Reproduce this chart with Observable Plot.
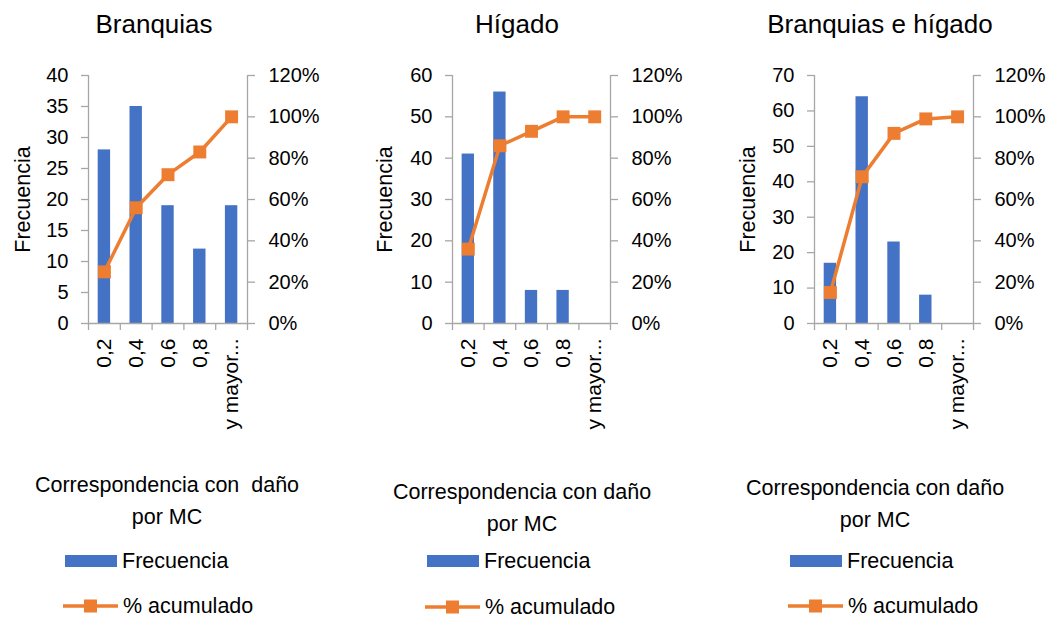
<!DOCTYPE html>
<html>
<head>
<meta charset="utf-8">
<script src="https://cdn.jsdelivr.net/npm/d3@7"></script>
<script src="https://cdn.jsdelivr.net/npm/@observablehq/plot@0.6"></script>
<style>
  html, body { margin: 0; padding: 0; background: #fff; }
  #root { position: relative; width: 1049px; height: 619px; overflow: hidden; background: #fff;
          font-family: "Liberation Sans", Arial, sans-serif; color: #000; }
  .title { position: absolute; font-size: 26px; line-height: 26px; white-space: nowrap; transform: translateX(-50%); }
  .xtitle { position: absolute; font-size: 21.5px; line-height: 32px; white-space: pre; text-align: center; transform: translateX(-50%); }
  .key { position: absolute; display: flex; align-items: center; font-size: 21.5px; line-height: 24px; white-space: nowrap; }
  .key svg { display: block; margin-right: 5px; }
  .chart { position: absolute; top: 60px; }
</style>
</head>
<body>
<div id="root"></div>
<script>
// Histogram categories (upper class limit) shared by the three panels
const categories = ["0,2", "0,4", "0,6", "0,8", "y mayor..."];

// Branquias
const freqBranquias = [28, 35, 19, 12, 19];
const pctBranquias = [25, 56, 72, 83, 100];

// Hígado
const freqHigado = [41, 56, 8, 8, 0];
const pctHigado = [36, 86, 93, 100, 100];

// Branquias e hígado
const freqAmbos = [17, 64, 23, 8, 0];
const pctAmbos = [15, 71, 92, 99, 100];

// Left-axis extent and tick step per panel; right axis always 0–120 %
const freqMax = [40, 60, 70];
const freqStep = [5, 10, 10];
const pctTicks = [0, 20, 40, 60, 80, 100, 120];

const titles = ["Branquias", "Hígado", "Branquias e hígado"];
const xTitles = ["Correspondencia con  daño\npor MC", "Correspondencia con daño\npor MC", "Correspondencia con daño\npor MC"];

const BLUE = "#4472C4";
const ORANGE = "#ED7D31";
const GRAY = "#A6A6A6";
const FONT = "'Liberation Sans', Arial, sans-serif";

// Page layout for each panel
const layout = [
  {left: 0,   mLeft: 88,  mRight: 102, labelX: 22.5, titleX: 154, xTitleX: 167, xTitleY: 469, keyX: 65,  keyY1: 549, keyY2: 594},
  {left: 350, mLeft: 102, mRight: 89,  labelX: 35,   titleX: 517, xTitleX: 522, xTitleY: 476, keyX: 427, keyY1: 549, keyY2: 595},
  {left: 700, mLeft: 114, mRight: 76,  labelX: 47.5, titleX: 880, xTitleX: 875, xTitleY: 472, keyX: 790, keyY1: 549, keyY2: 594}
];

const series = [
  {freq: freqBranquias, pct: pctBranquias},
  {freq: freqHigado, pct: pctHigado},
  {freq: freqAmbos, pct: pctAmbos}
];

const root = document.getElementById("root");

function chart(k) {
  const yMax = freqMax[k];
  const toY = p => p * yMax / 120; // percent mapped onto the frequency scale
  const rows = categories.map((c, i) => ({i, cat: c, freq: series[k].freq[i], pct: series[k].pct[i]}));
  const L = layout[k];
  return Plot.plot({
    width: 349,
    height: 390,
    marginLeft: L.mLeft,
    marginRight: L.mRight,
    marginTop: 15,
    marginBottom: 127,
    x: {domain: [0, categories.length], axis: null},
    y: {domain: [0, yMax], axis: null},
    style: {fontFamily: FONT, fontSize: "20px", color: "#000", background: "transparent", overflow: "visible"},
    marks: [
      Plot.rect(rows, {x1: d => d.i + 0.305, x2: d => d.i + 0.695, y1: 0, y2: "freq", fill: BLUE}),
      Plot.ruleY([0], {stroke: GRAY, strokeWidth: 1.3}),
      Plot.ruleX([0, categories.length], {y1: 0, y2: yMax, stroke: GRAY, strokeWidth: 1.3}),
      Plot.axisY(d3.range(0, yMax + 1, freqStep[k]), {
        anchor: "left", tickSize: 7, tickPadding: 13, stroke: GRAY, strokeWidth: 1.3, fill: "#000",
        label: null, fontSize: 20
      }),
      Plot.axisY(pctTicks.map(toY), {
        anchor: "right", tickSize: 7, tickPadding: 14, stroke: GRAY, strokeWidth: 1.3, fill: "#000",
        label: null, fontSize: 20, tickFormat: v => Math.round(v * 120 / yMax) + "%"
      }),
      Plot.axisX(d3.range(0, categories.length + 1), {
        anchor: "bottom", tickSize: 7, stroke: GRAY, strokeWidth: 1.3, tickFormat: () => "", label: null
      }),
      Plot.axisX(rows.map(d => d.i + 0.5), {
        anchor: "bottom", tickSize: 0, tickPadding: 15, tickRotate: -90, fill: "#000",
        tickFormat: v => categories[Math.floor(v)], label: null, fontSize: 21
      }),
      Plot.line(rows, {x: d => d.i + 0.5, y: d => toY(d.pct), stroke: ORANGE, strokeWidth: 3.5, strokeLinejoin: "round"}),
      Plot.dot(rows, {x: d => d.i + 0.5, y: d => toY(d.pct), symbol: "square", r: 7.3, fill: ORANGE, stroke: "none"}),
      Plot.text(["Frecuencia"], {
        frameAnchor: "left", textAnchor: "middle", rotate: -90, dx: -(L.mLeft - L.labelX),
        fontSize: 21.5, fill: "#000"
      })
    ]
  });
}

function keyBar() {
  return `<svg width="52" height="14"><rect x="0" y="1" width="52" height="12" fill="${BLUE}"/></svg>`;
}
function keyLine() {
  return `<svg width="55" height="16"><line x1="0" x2="55" y1="8" y2="8" stroke="${ORANGE}" stroke-width="3.5"/><rect x="21" y="1.5" width="13" height="13" fill="${ORANGE}"/></svg>`;
}

for (let k = 0; k < 3; k++) {
  const L = layout[k];

  const t = document.createElement("div");
  t.className = "title";
  t.textContent = titles[k];
  t.style.left = L.titleX + "px";
  t.style.top = "11px";
  root.appendChild(t);

  const svg = chart(k);
  svg.classList.add("chart");
  svg.style.left = L.left + "px";
  root.appendChild(svg);

  const xt = document.createElement("div");
  xt.className = "xtitle";
  xt.textContent = xTitles[k];
  xt.style.left = L.xTitleX + "px";
  xt.style.top = L.xTitleY + "px";
  root.appendChild(xt);

  const k1 = document.createElement("div");
  k1.className = "key";
  k1.innerHTML = keyBar() + "<span>Frecuencia</span>";
  k1.style.left = L.keyX + "px";
  k1.style.top = L.keyY1 + "px";
  root.appendChild(k1);

  const k2 = document.createElement("div");
  k2.className = "key";
  k2.innerHTML = keyLine() + "<span>% acumulado</span>";
  k2.style.left = (L.keyX - 2) + "px";
  k2.style.top = L.keyY2 + "px";
  root.appendChild(k2);
}
</script>
</body>
</html>
